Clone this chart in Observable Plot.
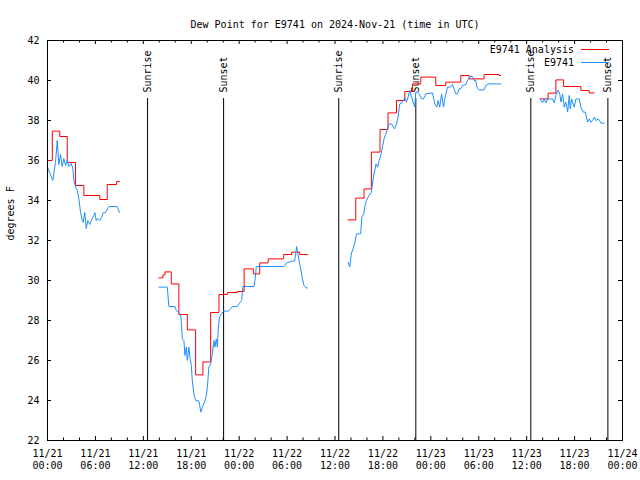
<!DOCTYPE html>
<html><head><meta charset="utf-8">
<script src="https://cdn.jsdelivr.net/npm/d3@7"></script>
<script src="https://cdn.jsdelivr.net/npm/@observablehq/plot@0.6"></script>
<style>
body{margin:0;background:#fff}
#wrap{position:relative;width:640px;height:480px}
#legend{position:absolute;top:42.5px;right:31px;font:10px "DejaVu Sans Mono",monospace;color:#000}
#legend .row{display:flex;justify-content:flex-end;align-items:center;height:13px;white-space:pre}
#legend .sw{width:28px;margin-left:7px;border-top:1px solid}
</style></head><body><div id="wrap"><div id="legend"></div></div>
<script>
const title = "Dew Point for E9741 on 2024-Nov-21 (time in UTC)";
const yLabel = "degrees F";
const seriesNames = ["E9741 Analysis", "E9741"];
const seriesColors = ["#ff0000", "#1e90ff"];

// hours since 2024-11-21 00:00 UTC; null = gap
const analysisHours = [
  0, 0.6, 1.54, 2.47, 3.51, 4.55, 6.55, 7.48, 8.65, 9.02, null,
  13.95, 14.45, 14.7, 15.5, 16.45, 17.51, 18.55, 19.46, 20.43, 21.47, 22.52, 23.77, 24.62, 25.78, 26.57, 27.63, 29.57, 30.58, 31.58, 32.58, null,
  37.63, 38.6, 39.64, 40.56, 41.64, 42.64, 43.7, 44.74, 45.7, 46.74, 48.62, 49.87, 51.75, 52.79, 54.67, 56.55, 56.77, null,
  61.69, 62.69, 63.66, 64.62, 66.79, 67.83, 68.46];
const analysisValues = [
  36.0, 37.47, 37.2, 35.9, 34.75, 34.25, 34.05, 34.8, 34.95, 34.95, null,
  30.13, 30.28, 30.43, 29.83, 28.3, 27.53, 25.28, 25.93, 28.4, 29.3, 29.4, 29.45, 30.58, 30.33, 30.88, 31.08, 31.3, 31.42, 31.3, 31.3, null,
  33.03, 34.12, 34.58, 36.42, 37.55, 38.38, 39.0, 39.45, 39.83, 40.17, 39.75, 39.92, 40.25, 40.08, 40.3, 40.25, 40.25, null,
  39.08, 39.37, 40.03, 39.7, 39.5, 39.38, 39.38];

const stationHours = [
  0.0, 0.66, 1.0, 1.22, 1.42, 1.63, 1.84, 2.04, 2.26, 2.47, 2.67, 2.97, 3.17, 3.3, 3.51, 3.72, 3.92, 4.14, 4.35, 4.47, 4.67, 4.85, 5.05, 5.3, 5.6, 5.8, 5.93, 6.1, 6.3, 6.55, 6.77, 6.98, 7.27, 7.68, 8.73, 9.02, null,
  13.95, 15.0, 15.2, 15.95, 16.13, 16.45, 16.67, 16.79, 16.88, 17.08, 17.21, 17.38, 17.51, 17.71, 17.83, 18.01, 18.13, 18.33, 18.55, 18.96, 19.09, 19.21, 19.39, 19.67, 19.89, 20.05, 20.21, 20.43, 20.64, 20.84, 20.96, 21.14, 21.27, 21.39, 21.55, 21.72, 22.02, 22.64, 22.93, 23.15, 23.77, 23.97, 24.31, 24.4, 24.47, 25.85, 25.98, 26.15, 29.61, 29.95, 30.66, 30.95, 31.08, 31.2, 31.33, 31.54, 31.7, 31.92, 32.12, 32.37, 32.54, null,
  37.63, 37.84, 38.06, 38.26, 38.51, 38.68, 39.22, 39.35, 39.6, 39.76, 39.94, 40.14, 40.56, 40.81, 41.02, 41.14, 41.35, 41.52, 41.73, 41.94, 42.14, 42.36, 42.57, 42.77, 43.07, 43.27, 43.45, 43.7, 43.9, 44.11, 44.32, 44.52, 44.74, 44.95, 45.15, 45.36, 45.58, 45.78, 45.99, 46.12, 46.33, 46.53, 46.83, 47.08, 47.37, 48.21, 48.5, 48.75, 48.91, 49.12, 49.34, 49.59, 49.79, 50.09, 50.41, 50.71, 50.91, 51.13, 51.34, 51.54, 51.75, 51.97, 52.38, 52.59, 52.92, 53.22, 53.42, 53.63, 53.76, 54.05, 54.67, 54.89, 55.18, 56.77, null,
  61.69, 61.99, 62.19, 62.41, 62.62, 63.25, 63.45, 63.66, 63.95, 64.16, 64.29, 64.5, 64.7, 64.91, 65.13, 65.33, 65.45, 65.63, 65.95, 66.17, 66.58, 66.79, 67.08, 67.33, 67.63, 67.83, 68.05, 68.26, 68.46, 68.67, 68.96, 69.3, 69.71];
const stationValues = [
  35.67, 35.0, 35.9, 37.0, 35.8, 36.3, 35.7, 36.1, 35.75, 36.0, 35.7, 35.85, 35.6, 35.0, 34.67, 34.5, 34.1, 33.4, 33.0, 32.9, 33.4, 32.6, 33.0, 32.8, 33.1, 33.25, 33.4, 33.0, 33.1, 33.0, 33.15, 33.4, 33.4, 33.7, 33.7, 33.4, null,
  29.67, 29.67, 28.7, 28.7, 28.5, 28.4, 28.3, 27.75, 27.08, 27.0, 26.25, 26.67, 26.0, 26.67, 26.17, 25.75, 25.0, 24.33, 24.0, 23.97, 23.67, 23.42, 23.67, 23.92, 24.25, 24.83, 25.67, 25.83, 26.33, 27.0, 26.67, 27.08, 26.67, 27.67, 28.17, 28.3, 28.47, 28.47, 28.58, 28.7, 28.7, 28.83, 29.0, 29.42, 29.7, 29.7, 30.0, 30.7, 30.7, 30.88, 30.97, 30.97, 31.33, 31.7, 31.42, 30.92, 30.58, 30.08, 29.75, 29.63, 29.63, null,
  30.92, 30.67, 31.37, 31.58, 31.92, 32.33, 32.33, 33.17, 33.33, 33.75, 34.0, 34.17, 34.42, 35.17, 35.58, 35.83, 35.67, 36.0, 36.25, 36.67, 37.08, 37.33, 37.58, 37.83, 37.83, 37.7, 37.58, 37.83, 38.17, 38.83, 38.87, 39.0, 39.13, 38.92, 39.17, 39.5, 39.17, 38.92, 38.67, 39.42, 39.42, 39.33, 39.08, 39.08, 39.33, 39.38, 38.83, 38.67, 39.0, 38.67, 39.33, 38.67, 39.17, 39.67, 39.67, 39.8, 39.58, 39.33, 39.33, 39.58, 39.58, 39.75, 39.8, 40.0, 40.2, 40.2, 40.0, 40.0, 39.67, 39.53, 39.53, 39.75, 39.83, 39.83, null,
  39.08, 38.88, 39.08, 38.88, 39.08, 39.08, 38.88, 39.25, 39.53, 39.3, 38.92, 39.33, 38.67, 38.92, 38.42, 39.25, 38.58, 39.08, 38.67, 39.08, 39.08, 38.67, 38.42, 38.42, 37.92, 38.08, 37.92, 38.0, 38.17, 38.0, 38.08, 37.87, 37.87];

const sunHours = [12.53, 22.05, 36.47, 46.12, 60.52, 70.17];
const sunLabels = ["Sunrise", "Sunset", "Sunrise", "Sunset", "Sunrise", "Sunset"];

const xTickHours = [0, 6, 12, 18, 24, 30, 36, 42, 48, 54, 60, 66, 72];
const xTickLabels = ["11/21\n00:00", "11/21\n06:00", "11/21\n12:00", "11/21\n18:00",
  "11/22\n00:00", "11/22\n06:00", "11/22\n12:00", "11/22\n18:00",
  "11/23\n00:00", "11/23\n06:00", "11/23\n12:00", "11/23\n18:00", "11/24\n00:00"];
const xMinorHours = [2, 4, 8, 10, 14, 16, 20, 22, 26, 28, 32, 34, 38, 40, 44, 46, 50, 52, 56, 58, 62, 64, 68, 70];
const yTicks = [22, 24, 26, 28, 30, 32, 34, 36, 38, 40, 42];

const HOUR = 3600e3, t0 = Date.UTC(2024, 10, 21);
const toTime = h => h == null ? null : new Date(t0 + h * HOUR);

const analysis = analysisHours.map((h, i) => ({t: toTime(h), v: analysisValues[i]}));
const station = stationHours.map((h, i) => ({t: toTime(h), v: stationValues[i]}));
const sun = sunHours.map((h, i) => ({t: toTime(h), label: sunLabels[i]}));
const xTicks = xTickHours.map(toTime);
const xMinor = xMinorHours.map(toTime);
const labelMap = new Map(xTickHours.map((h, i) => [+toTime(h), xTickLabels[i]]));

const W = 640, Hh = 480, mL = 47, mR = 18, mT = 40, mB = 40;
const frameW = W - mL - mR, frameH = Hh - mT - mB;

const chart = Plot.plot({
  width: W, height: Hh,
  marginLeft: mL, marginRight: mR, marginTop: mT, marginBottom: mB,
  style: {fontFamily: "'DejaVu Sans Mono', monospace", fontSize: "10px", background: "#fff", color: "#000"},
  x: {type: "utc", domain: [toTime(0), toTime(72)]},
  y: {domain: [22, 42]},
  marks: [
    Plot.ruleX(xTicks, {x: d => d, insetTop: frameH - 4, stroke: "#000"}),
    Plot.ruleX(xTicks, {x: d => d, insetBottom: frameH - 4, stroke: "#000"}),
    Plot.ruleX(xMinor, {x: d => d, insetTop: frameH - 2.5, stroke: "#000"}),
    Plot.ruleX(xMinor, {x: d => d, insetBottom: frameH - 2.5, stroke: "#000"}),
    Plot.ruleY(yTicks, {y: d => d, insetRight: frameW - 4, stroke: "#000"}),
    Plot.ruleY(yTicks, {y: d => d, insetLeft: frameW - 4, stroke: "#000"}),
    Plot.axisX({anchor: "bottom", ticks: xTicks, tickSize: 0, tickPadding: 8, lineHeight: 1.2, tickFormat: d => labelMap.get(+d), label: null}),
    Plot.axisY({anchor: "left", ticks: yTicks, tickSize: 0, tickPadding: 8, label: null}),
    Plot.text([yLabel], {frameAnchor: "left", dx: -37, rotate: -90}),
    Plot.text([title], {frameAnchor: "top", dy: -20}),
    Plot.ruleX(sun, {x: "t", insetTop: 58, stroke: "#000"}),
    Plot.text(sun, {x: "t", text: "label", frameAnchor: "top", dx: -4, dy: 52, rotate: -90, textAnchor: "start"}),
    Plot.line(analysis, {x: "t", y: "v", stroke: seriesColors[0], strokeWidth: 1, curve: "step-after"}),
    Plot.line(station, {x: "t", y: "v", stroke: seriesColors[1], strokeWidth: 1}),
    Plot.frame({stroke: "#000"})
  ]
});
document.getElementById("wrap").prepend(chart);

const legend = document.getElementById("legend");
seriesNames.forEach((name, i) => {
  const row = document.createElement("div");
  row.className = "row";
  const label = document.createElement("span");
  label.textContent = name;
  const sw = document.createElement("span");
  sw.className = "sw";
  sw.style.borderTopColor = seriesColors[i];
  row.append(label, sw);
  legend.append(row);
});
</script></body></html>
